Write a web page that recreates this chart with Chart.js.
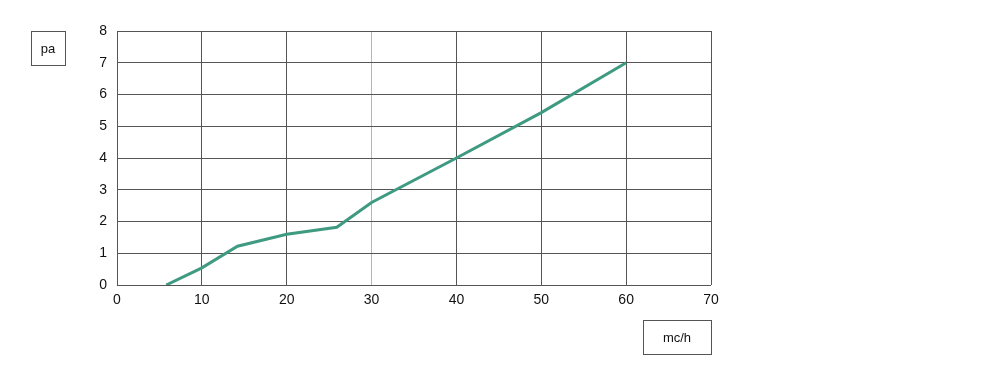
<!DOCTYPE html>
<html>
<head>
<meta charset="utf-8">
<script src="https://cdn.jsdelivr.net/npm/chart.js@4"></script>
<style>
  html, body { margin: 0; padding: 0; background: #fff; }
  #wrap { width: 1000px; height: 380px; }
</style>
</head>
<body>
<div id="wrap"><canvas id="chart"></canvas></div>
<script>
"use strict";

const flowRate = [5.8, 10, 14.2, 20, 25.9, 30, 40, 50, 60];
const pressure = [0, 0.54, 1.22, 1.6, 1.82, 2.6, 4.0, 5.43, 7.0];
const xTicks = [0, 10, 20, 30, 40, 50, 60, 70];
const yTicks = [0, 1, 2, 3, 4, 5, 6, 7, 8];

const FONT = { family: "'Liberation Sans', Arial, sans-serif", size: 14 };

// small framed unit labels ("pa" and "mc/h")
const unitBoxes = {
  id: "unitBoxes",
  afterDraw(chart) {
    const ctx = chart.ctx;
    const boxes = [
      { text: "pa", x: 31, y: 31, w: 34, h: 34 },
      { text: "mc/h", x: 643, y: 320, w: 68, h: 34 },
    ];
    ctx.save();
    ctx.strokeStyle = "#555";
    ctx.lineWidth = 1;
    ctx.fillStyle = "#111";
    ctx.font = "13px 'Liberation Sans', Arial, sans-serif";
    ctx.textAlign = "center";
    ctx.textBaseline = "middle";
    boxes.forEach((b) => {
      ctx.strokeRect(b.x + 0.5, b.y + 0.5, b.w, b.h);
      ctx.fillText(b.text, b.x + b.w / 2, b.y + b.h / 2 + 1);
    });
    ctx.restore();
  },
};

new Chart(document.getElementById("chart"), {
  type: "line",
  data: {
    datasets: [
      {
        data: flowRate.map((x, i) => ({ x, y: pressure[i] })),
        borderColor: "#3e9a80",
        borderWidth: 3,
        pointRadius: 0,
        tension: 0,
        fill: false,
      },
    ],
  },
  options: {
    responsive: true,
    maintainAspectRatio: false,
    animation: false,
    layout: { padding: { top: 31, right: 289, left: 0, bottom: 0 } },
    plugins: { legend: { display: false }, tooltip: { enabled: false } },
    scales: {
      x: {
        type: "linear",
        min: 0,
        max: 70,
        afterFit: (s) => { s.height = 95; },
        afterBuildTicks: (s) => { s.ticks = xTicks.map((v) => ({ value: v })); },
        ticks: { color: "#111", font: FONT, padding: 7 },
        grid: {
          drawTicks: false,
          color: (c) => (c.tick && c.tick.value === 30 ? "#b5b5b5" : "#555"),
          lineWidth: 1,
        },
        border: { display: false },
      },
      y: {
        min: 0,
        max: 8,
        afterFit: (s) => { s.width = 117; },
        afterBuildTicks: (s) => { s.ticks = yTicks.map((v) => ({ value: v })); },
        ticks: { color: "#111", font: FONT, padding: 10 },
        grid: { drawTicks: false, color: "#555", lineWidth: 1 },
        border: { display: false },
      },
    },
  },
  plugins: [unitBoxes],
});
</script>
</body>
</html>
